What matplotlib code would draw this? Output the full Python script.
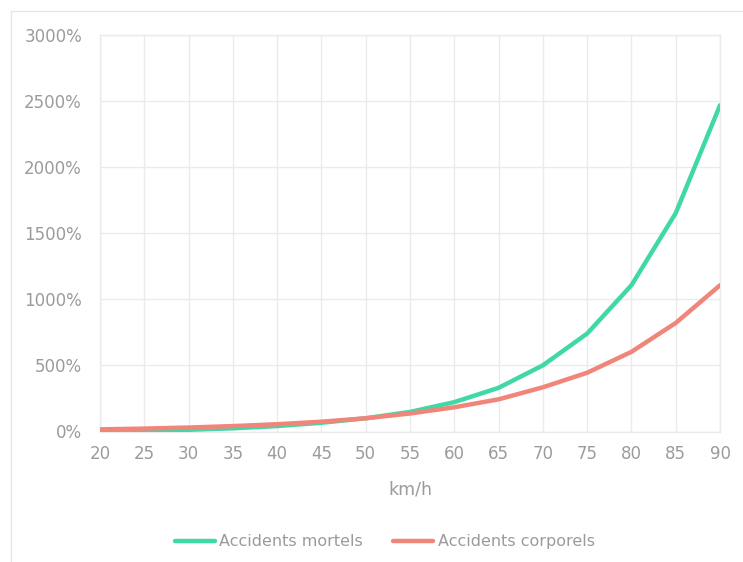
import matplotlib.pyplot as plt
from matplotlib.lines import Line2D
from matplotlib.ticker import FuncFormatter

# vitesse (km/h) et risque relatif par rapport a 50 km/h (%)
vitesses = [20, 25, 30, 35, 40, 45, 50, 55, 60, 65, 70, 75, 80, 85, 90]
mortels = [3, 6, 13, 24, 41, 66, 100, 148, 222, 330, 500, 740, 1105, 1650, 2465]
corporels = [16, 22, 30, 41, 55, 74, 100, 136, 183, 243, 334, 444, 602, 820, 1105]

gris = '#9b9b9b'
grille = '#ebebeb'

plt.rcParams['font.family'] = 'DejaVu Sans'
fig = plt.figure(figsize=(7.43, 5.62), dpi=100)
ax = fig.add_axes([100/743, 1 - 431.5/562, 620/743, 397/562])

ax.plot(vitesses, mortels, color='#41d8a8', lw=3.2, solid_capstyle='round', label='Accidents mortels', zorder=3)
ax.plot(vitesses, corporels, color='#f0857a', lw=3.2, solid_capstyle='round', label='Accidents corporels', zorder=4)

ax.set_xlim(20, 90)
ax.set_ylim(0, 3000)
ax.set_xticks(vitesses)
ax.set_yticks(range(0, 3001, 500))
ax.yaxis.set_major_formatter(FuncFormatter(lambda v, p: f'{v:.0f}%'))
ax.grid(True, color=grille, lw=1.0)
ax.set_axisbelow(True)
for s in ax.spines.values():
    s.set_color(grille)
    s.set_linewidth(1.0)
ax.tick_params(length=0, colors=gris, labelsize=12)
ax.tick_params(axis='y', pad=13)
ax.tick_params(axis='x', pad=10)
ax.set_xlabel('km/h', color=gris, fontsize=12.5, labelpad=12)

fig.legend(loc='lower center', bbox_to_anchor=(0.518, -0.003), ncol=2, frameon=False,
           fontsize=11.5, labelcolor=gris, handlelength=2.5, handletextpad=0.3, columnspacing=1.9)

# cadre du graphique
bord = dict(color='#e6e6e6', lw=1.0)
fig.add_artist(Line2D([11/743, 1], [1 - 11/562, 1 - 11/562], transform=fig.transFigure, **bord))
fig.add_artist(Line2D([11/743, 11/743], [1 - 11/562, 0], transform=fig.transFigure, **bord))

fig.savefig('out.png', dpi=100)
